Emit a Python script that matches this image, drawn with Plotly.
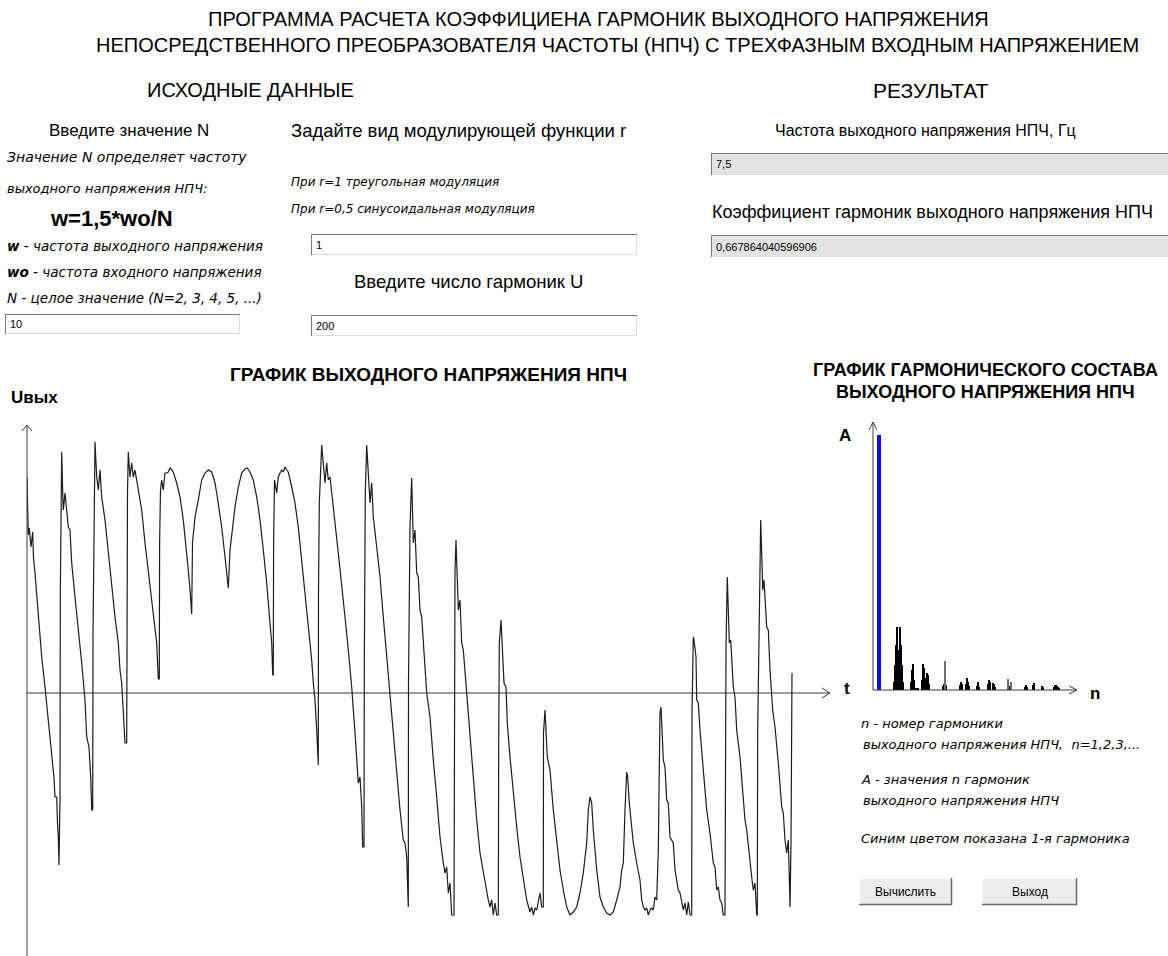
import plotly.graph_objects as go

W, H = 1168, 956

# ---------------------------------------------------------------
# Output voltage of the cycloconverter (relative units)
# ---------------------------------------------------------------
t_out = [
    0, 0.5, 1.3, 2.3, 4, 5.7, 6.5, 8, 11.3, 14.7, 18, 21.3, 24.7, 27, 28, 29.7, 30.5, 31.3, 32,
    33, 33.3, 34.2, 34.7,
    35.7, 36.3, 38, 39.7, 41.3, 43, 44.7, 48, 51.3, 54.7, 58, 59.7, 62, 63.7, 64.7,
    65.7, 66, 66.7, 67.5, 68,
    69.7, 71.3, 73, 74.7, 78, 81.3, 84.7, 88, 91.3, 93, 94.7, 96.3, 98,
    99.7, 99.9, 100.5, 101.3,
    103, 104.7, 106.3, 108, 109.7, 111.3, 114.7, 118, 121.3, 124.7, 128, 129.7, 131.3,
    132.3, 132.6, 133.5, 134.7, 136.3, 138, 139.7, 141.3, 143, 144.7, 146.3, 149.7, 153, 156.3,
    159.7, 161.3, 163, 164.7,
    165.5, 168, 171.3, 174.7, 178, 181.3, 184.7, 188, 190, 194.7, 198, 201.3,
    203, 204.7, 208, 211.3, 214.7, 218, 220.3, 223, 226.3, 229.7, 233, 236.3, 239.7, 243, 244.7, 245.7,
    246.3, 246.6, 247.5, 249.7, 251.3, 253, 254.7, 256.3, 258, 259.7, 261.3, 264.7, 268, 271.3,
    274.7, 278, 281.3, 284.7, 286.3, 288, 289.7, 290.7,
    291.3, 291.5, 292.3, 294.7, 296.3, 298, 299.7, 301.3, 303, 304.7, 308, 311.3, 314.7, 318,
    321.3, 324.7, 328, 331.3, 333, 334.7, 335.7,
    337, 337.3, 338.3, 339.7, 341.3, 343, 344.7, 346.3, 349.7, 353, 356.3, 359.7, 363, 366.3,
    369.7, 373, 376.3, 378, 379.7, 380.7,
    381.3, 381.5, 383, 384.7, 385.7, 386.3, 388, 389.7, 391.3, 393, 394.7, 396.3, 398, 399.7,
    403, 404.7, 406.3, 409.7, 413, 416.3, 418, 419.7, 421.3, 423, 424.7,
    427, 427.5, 428, 429, 430.3, 431.3, 433, 434.7, 436.3, 439.7, 443, 446.3, 449.7, 453,
    456.3, 459.7, 461.3, 463, 464.7, 466.3, 468, 469.7,
    471.3, 471.7, 472.3, 474, 475.7, 477, 479, 480.3, 483, 486.3, 489.7, 493, 496.3, 499.7,
    503, 504.7, 506.3, 508, 509.7, 511.3, 513, 514.7,
    516.3, 516.5, 518, 520.3, 523, 526.3, 529.7, 533, 536.3, 539.7, 543, 546.3, 549.7, 553,
    556.3, 559.7, 561.3, 563, 564.7, 566.3, 569.7, 573, 576.3, 579.7, 583, 586.3, 589.7, 593,
    594.7, 596.3, 598, 599.7, 600.7, 602.3, 604.7, 606.3, 609.7, 613, 614.7, 616.3, 618, 619.7,
    621.3, 623, 624.7, 626.3, 628, 629.7, 631.3, 632.3, 633, 634, 634.7, 636.3, 638, 639.7,
    641.3, 643, 646.3, 648, 651.3, 653, 656.3, 658, 659.7, 661.3, 663,
    664.7, 665, 666.3, 667, 669, 669.7, 671.3, 673, 674.7, 676.3, 678, 679.7, 683, 686.3,
    688, 689.7, 691.3, 693, 694.7, 696.3,
    698, 698.2, 699, 700.3, 702.3, 703.7, 706.3, 708, 709.7, 713, 714.7, 716.3, 718, 719.7,
    722.3, 724.7, 726.3, 728, 729.7,
    730.3, 730.7, 733, 733.7, 734.7, 735.7, 737, 739.7, 741.3, 743, 745.7, 748, 751.3, 754.7,
    756.3, 758, 759.7, 761.3, 762.3, 763,
    764, 765,
]
u_out = [
    215, 180, 158, 165, 146, 161, 135, 120, 76, 36, 6, -27, -64, -85, -104, -104, -130, -144, -172,
    -105, 100, 200, 241,
    200, 183, 200, 183, 166, 163, 130, 96, 66, 30, -7, -44, -54, -84, -117,
    -117, 56, 113, 200, 251,
    216, 203, 223, 196, 173, 140, 106, 76, 50, 23, 10, -17, -50,
    -50, 154, 200, 241,
    216, 230, 216, 223, 213, 206, 183, 150, 123, 96, 66, 50, 14,
    14, 150, 203, 213, 203, 220, 220, 221, 225, 223, 221, 210, 196, 173,
    143, 123, 103, 79,
    150, 176, 193, 213, 220, 223, 221, 210, 198, 166, 136, 105,
    143, 160, 186, 206, 220, 224, 225, 221, 213, 196, 173, 143, 110, 70, 50, 18,
    18, 150, 213, 200, 216, 220, 223, 221, 226, 223, 221, 206, 190, 166,
    133, 96, 63, 33, 10, -7, -37, -72,
    -72, 100, 190, 248, 230, 210, 230, 213, 216, 198, 170, 140, 110, 76,
    43, 6, -40, -90, -84, -114, -154,
    -154, 30, 200, 248, 223, 190, 210, 176, 146, 116, 76, 36, 0, -37,
    -77, -117, -147, -150, -164, -214,
    -214, 10, 166, 215, 176, 150, 163, 120, 116, 83, 76, 50, 30, 0,
    -24, -50, -67, -104, -144, -170, -180, -174, -200, -190, -222,
    -222, 0, 123, 153, 123, 83, 93, 50, 43, 0, -50, -90, -127, -160,
    -180, -197, -207, -214, -207, -222, -210, -222,
    -222, -50, 50, 73, 36, 10, 6, -30, -64, -100, -134, -164, -187, -207,
    -219, -214, -222, -215, -217, -207, -200, -214,
    -214, -40, -17, -64, -77, -117, -150, -177, -197, -214, -222, -219, -214, -200,
    -180, -150, -117, -104, -110, -137, -177, -204, -214, -220, -222, -219, -207, -194,
    -177, -170, -117, -79, -84, -110, -134, -150, -170, -187, -207, -214, -217, -215,
    -222, -217, -215, -217, -204, -207, -157, -77, -20, -14, -37, -67, -74, -107,
    -110, -144, -150, -177, -197, -200, -217, -210, -222, -209, -222,
    -222, -20, 56, 53, 36, -7, -10, -37, -54, -77, -97, -117, -140, -170,
    -174, -197, -194, -207, -210, -222,
    -222, -100, 46, 116, 50, 53, 6, -4, -37, -64, -84, -107, -127, -137,
    -164, -184, -197, -190, -222,
    -222, -37, 116, 173, 140, 103, 113, 66, 63, 23, -17, -34, -70, -114,
    -120, -147, -160, -147, -184, -214,
    -150, 20,
]

# ---------------------------------------------------------------
# Harmonic content, % of the 1st harmonic
# ---------------------------------------------------------------
n_first = [1]
a_first = [100]

n_harm = [16, 17, 18, 19, 20, 21, 22, 23, 24, 25,
          33, 34, 35, 36, 38, 39, 40,
          44, 45, 46, 47, 48, 49, 50, 51,
          65, 66, 68, 82, 83, 84, 88, 89, 90, 91,
          99, 100, 101, 110, 111, 112, 115, 116, 117,
          131, 132, 147, 148, 149, 155, 156, 164, 165,
          176, 177, 178, 179, 180, 181]
a_harm = [3.1, 9.8, 17.6, 24.7, 15.7, 13.7, 24.7, 17.6, 9.8, 3.1,
          3.1, 7.8, 10.2, 3.9, 0.8, 0.8, 0.8,
          3.9, 10.2, 8.6, 4.7, 3.1, 6.7, 5.9, 2.4,
          1.6, 2.4, 2.0, 2.0, 3.1, 2.4, 2.4, 4.7, 3.1, 1.6,
          1.6, 3.1, 1.2, 2.4, 3.9, 3.1, 2.7, 2.4, 1.2,
          1.6, 1.2, 1.2, 2.0, 1.2, 2.0, 2.7, 1.6, 1.2,
          1.2, 2.0, 2.0, 1.6, 1.2, 0.8]
n_harm_gray = [67, 130, 133]
a_harm_gray = [11.4, 4.3, 3.1]

# ---------------------------------------------------------------
SANS = "Liberation Sans, Arial, sans-serif"
NARROW = "Liberation Sans Narrow, Liberation Sans, Arial, sans-serif"
ITAL = "DejaVu Sans, sans-serif"
AXIS_COL = "#3a3a3a"


def px(x):
    return x / W


def py(y):
    return 1 - y / H


fig = go.Figure()

fig.add_trace(go.Scatter(
    x=t_out, y=u_out, mode="lines",
    line=dict(color="#1c1c1c", width=1.2),
    xaxis="x", yaxis="y", hoverinfo="skip", showlegend=False,
))
fig.add_trace(go.Bar(
    x=n_harm, y=a_harm, width=1,
    marker=dict(color="#000000", line=dict(width=0)),
    xaxis="x2", yaxis="y2", hoverinfo="skip", showlegend=False,
))
fig.add_trace(go.Bar(
    x=n_harm_gray, y=a_harm_gray, width=1,
    marker=dict(color="#6e6e6e", line=dict(width=0)),
    xaxis="x2", yaxis="y2", hoverinfo="skip", showlegend=False,
))
fig.add_trace(go.Bar(
    x=n_first, y=a_first, width=3.5,
    marker=dict(color="#0a0aff", line=dict(width=0)),
    xaxis="x2", yaxis="y2", hoverinfo="skip", showlegend=False,
))

shapes = []


def line(x0, y0, x1, y1, color=AXIS_COL, w=1):
    shapes.append(dict(type="line", xref="paper", yref="paper",
                       x0=px(x0), y0=py(y0), x1=px(x1), y1=py(y1),
                       line=dict(color=color, width=w)))


def polyline(pts, color=AXIS_COL, w=1):
    d = "M " + " L ".join(f"{px(a):.5f},{py(b):.5f}" for a, b in pts)
    shapes.append(dict(type="path", xref="paper", yref="paper", path=d,
                       line=dict(color=color, width=w)))


def rect(x0, y0, x1, y1, fill):
    shapes.append(dict(type="rect", xref="paper", yref="paper",
                       x0=px(x0), y0=py(y0), x1=px(x1), y1=py(y1),
                       fillcolor=fill, line=dict(width=0), layer="below"))


# axes of the output-voltage graph
line(27, 425, 27, 956)
polyline([(22, 431), (27, 425), (32, 431)])
line(27, 693, 830, 693)
polyline([(822, 688), (830, 693), (822, 698)])

# axes of the harmonic graph
line(873, 422, 873, 690)
polyline([(869, 430), (873, 422), (877, 430)])
line(873, 690, 1077, 690)
polyline([(1069, 686), (1077, 690), (1069, 694)])

annotations = []


def txt(x, y, s, size, family=SANS, anchor="left", color="#000000"):
    annotations.append(dict(x=px(x), y=py(y), xref="paper", yref="paper",
                            text=s, showarrow=False, xanchor=anchor,
                            yanchor="middle", borderpad=0,
                            font=dict(family=family, size=size, color=color)))


def edit_box(x0, y0, x1, y1, value, fill="#ffffff"):
    rect(x0, y0, x1, y1, fill)
    line(x0, y0 + 0.5, x1, y0 + 0.5, "#7a7a7a")
    line(x0 + 0.5, y0, x0 + 0.5, y1, "#7a7a7a")
    line(x0 + 1, y1 - 0.5, x1, y1 - 0.5, "#dcdcdc")
    line(x1 - 0.5, y0 + 1, x1 - 0.5, y1, "#dcdcdc")
    txt(x0 + 4, (y0 + y1) / 2 + 0.5, value, 11, NARROW)


def button(x0, y0, x1, y1, label):
    rect(x0, y0, x1, y1, "#ececec")
    line(x0, y0 + 0.5, x1, y0 + 0.5, "#ffffff")
    line(x0 + 0.5, y0, x0 + 0.5, y1, "#ffffff")
    line(x0, y1 - 0.5, x1, y1 - 0.5, "#6a6a6a", 1.5)
    line(x1 - 0.5, y0, x1 - 0.5, y1, "#6a6a6a", 1.5)
    txt((x0 + x1) / 2, (y0 + y1) / 2, label, 12, NARROW, anchor="center")


# headings
txt(598, 19, "ПРОГРАММА РАСЧЕТА КОЭФФИЦИЕНА ГАРМОНИК ВЫХОДНОГО НАПРЯЖЕНИЯ", 20, SANS, "center")
txt(618, 45, "НЕПОСРЕДСТВЕННОГО ПРЕОБРАЗОВАТЕЛЯ ЧАСТОТЫ (НПЧ) С ТРЕХФАЗНЫМ ВХОДНЫМ НАПРЯЖЕНИЕМ", 20, SANS, "center")
txt(250, 90, "ИСХОДНЫЕ ДАННЫЕ", 20, SANS, "center")
txt(931, 90, "РЕЗУЛЬТАТ", 21, SANS, "center")

# input data block
txt(48, 130, "Введите значение N", 17)
txt(6, 157, "<i>Значение N определяет частоту</i>", 14, ITAL)
txt(6, 188, "<i>выходного напряжения НПЧ:</i>", 13, ITAL)
txt(49, 218, "<b>w=1,5*wo/N</b>", 22)
txt(6, 246, "<i><b>w</b> - частота выходного напряжения</i>", 13.5, ITAL)
txt(6, 272, "<i><b>wo</b> - частота входного напряжения</i>", 13.5, ITAL)
txt(6, 298, "<i>N - целое значение (N=2, 3, 4, 5, ...)</i>", 13.5, ITAL)
edit_box(5, 314, 240, 334, "10")

txt(290, 130, "Задайте вид модулирующей функции r", 18.5)
txt(290, 182, "<i>При r=1 треугольная модуляция</i>", 12, ITAL)
txt(290, 209, "<i>При r=0,5 синусоидальная модуляция</i>", 12, ITAL)
edit_box(311, 234, 637, 255, "1")
txt(468, 282, "Введите число гармоник U", 18.5, SANS, "center")
edit_box(311, 315, 637, 336, "200")

# result block
txt(925, 130, "Частота выходного напряжения НПЧ, Гц", 16, SANS, "center")
edit_box(711, 153, 1170, 175, "7,5", "#e3e3e3")
txt(711, 212, "Коэффициент гармоник выходного напряжения НПЧ", 18)
edit_box(711, 235, 1170, 257, "0,667864040596906", "#e3e3e3")

# graph captions
txt(428, 374, "<b>ГРАФИК ВЫХОДНОГО НАПРЯЖЕНИЯ НПЧ</b>", 19, SANS, "center")
txt(10, 397, "<b>Uвых</b>", 17)
txt(985, 370, "<b>ГРАФИК ГАРМОНИЧЕСКОГО СОСТАВА</b>", 18, SANS, "center")
txt(985, 392, "<b>ВЫХОДНОГО НАПРЯЖЕНИЯ НПЧ</b>", 18, SANS, "center")
txt(838, 435, "<b>A</b>", 17)
txt(843, 688, "<b>t</b>", 17)
txt(1089, 693, "<b>n</b>", 17)

# legend notes of the harmonic graph
txt(860, 723, "<i>n - номер гармоники</i>", 13, ITAL)
txt(862, 744, "<i>выходного напряжения НПЧ,  n=1,2,3,...</i>", 13, ITAL)
txt(860, 779, "<i>A - значения n гармоник</i>", 13, ITAL)
txt(862, 800, "<i>выходного напряжения НПЧ</i>", 13, ITAL)
txt(860, 838, "<i>Синим цветом показана 1-я гармоника</i>", 13, ITAL)

button(859, 878, 952, 905, "Вычислить")
button(982, 878, 1077, 905, "Выход")

fig.update_layout(
    width=W, height=H,
    margin=dict(l=0, r=0, t=0, b=0, pad=0),
    paper_bgcolor="#ffffff", plot_bgcolor="rgba(0,0,0,0)",
    showlegend=False, barmode="overlay", bargap=0,
    xaxis=dict(domain=[px(27), px(827)], range=[0, 800], visible=False, fixedrange=True),
    yaxis=dict(domain=[0, py(420)], range=[-263, 273], visible=False, fixedrange=True),
    xaxis2=dict(domain=[px(873), px(1077)], range=[-5, 199], visible=False, anchor="y2", fixedrange=True),
    yaxis2=dict(domain=[py(690), py(421)], range=[0, 269 / 255 * 100], visible=False, anchor="x2", fixedrange=True),
    shapes=shapes,
    annotations=annotations,
)

fig.write_html("out.html", config={"displayModeBar": False},
               post_script="document.body.style.margin='0';document.body.style.overflow='hidden';")
